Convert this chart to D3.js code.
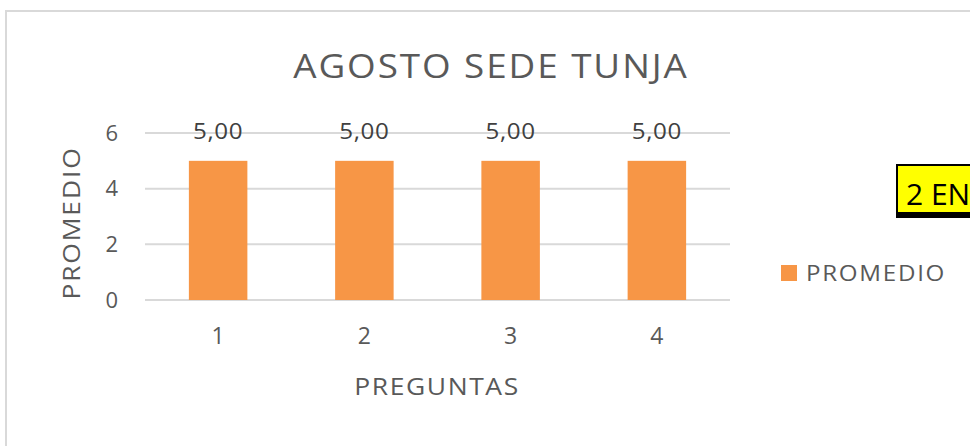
<!DOCTYPE html>
<html>
<head>
<meta charset="utf-8">
<script src="https://cdn.jsdelivr.net/npm/d3@7"></script>
<style>
  html, body { margin: 0; padding: 0; background: #fff; }
  svg { display: block; }
  text { font-family: "Open Sans", "Liberation Sans", sans-serif; }
</style>
</head>
<body>
<svg id="chart" width="970" height="446"></svg>
<script>
// Chart data
const categories = ["1", "2", "3", "4"];
const promedio = [5, 5, 5, 5];
const yTicks = [0, 2, 4, 6];
const seriesName = "PROMEDIO";
const chartTitle = "AGOSTO SEDE TUNJA";
const xTitle = "PREGUNTAS";
const yTitle = "PROMEDIO";
const noteText = "2 EN";

const svg = d3.select("#chart");
const W = 970, H = 446;
const textColor = "#595959";

// text drawn with slightly widened glyphs
function wideText(parent, cx, cy, str, opts) {
  const o = Object.assign({ size: 22, sx: 1.15, spacing: 1.5, rotate: 0, anchor: "middle", fill: textColor }, opts);
  return parent.append("text")
    .attr("transform", `translate(${cx},${cy}) rotate(${o.rotate}) scale(${o.sx},1)`)
    .attr("text-anchor", o.anchor)
    .attr("font-size", o.size)
    .attr("fill", o.fill)
    .attr("letter-spacing", o.spacing)
    .text(str);
}

// chart frame
svg.append("rect")
  .attr("x", 6).attr("y", 11).attr("width", W + 10).attr("height", H + 10)
  .attr("fill", "#fff").attr("stroke", "#d9d9d9").attr("stroke-width", 2);

const plot = { left: 145, right: 730, top: 133, bottom: 300 };

const x = d3.scaleBand().domain(categories).range([plot.left, plot.right]).paddingInner(0.6).paddingOuter(0.3);
const y = d3.scaleLinear().domain([0, 6]).range([plot.bottom, plot.top]);

// gridlines
svg.append("g").selectAll("line").data(yTicks).join("line")
  .attr("x1", plot.left).attr("x2", plot.right)
  .attr("y1", d => y(d)).attr("y2", d => y(d))
  .attr("stroke", "#d9d9d9").attr("stroke-width", 2);

// bars
svg.append("g").selectAll("rect").data(promedio).join("rect")
  .attr("x", (d, i) => x(categories[i]))
  .attr("width", x.bandwidth())
  .attr("y", d => y(d))
  .attr("height", d => y(0) - y(d))
  .attr("fill", "#F79646");

// data labels
const labels = svg.append("g");
promedio.forEach((d, i) => {
  wideText(labels, x(categories[i]) + x.bandwidth() / 2, y(d) - 22,
    d.toFixed(2).replace(".", ","), { size: 22, sx: 1.1, spacing: 0.6, fill: "#404040" });
});

// y axis
const yAxis = d3.axisLeft(y).tickValues(yTicks).tickFormat(d3.format("d")).tickSize(0).tickPadding(27);
const gy = svg.append("g").attr("transform", `translate(${plot.left},0)`).call(yAxis);
gy.select(".domain").remove();
gy.selectAll("text").attr("font-size", 22).attr("fill", textColor)
  .style("font-family", '"Open Sans", sans-serif');

// x axis
const xAxis = d3.axisBottom(x).tickSize(0).tickPadding(28);
const gx = svg.append("g").attr("transform", `translate(0,${plot.bottom})`).call(xAxis);
gx.select(".domain").remove();
gx.selectAll("text").attr("font-size", 23).attr("fill", textColor)
  .style("font-family", '"Open Sans", sans-serif');

// title
wideText(svg, 491, 78, chartTitle, { size: 32, sx: 1.15, spacing: 1.7 });

// axis titles
wideText(svg, 437, 395, xTitle, { size: 23, sx: 1.15, spacing: 1.4 });
wideText(svg, 80, 223, yTitle, { size: 23, sx: 1.15, spacing: 1.6, rotate: -90 });

// legend
svg.append("rect")
  .attr("x", 781).attr("y", 265).attr("width", 16).attr("height", 16)
  .attr("fill", "#F79646");
wideText(svg, 806, 281, seriesName, { size: 21, sx: 1.15, spacing: 1.5, anchor: "start" });

// highlighted note box
const note = svg.append("g");
note.append("rect")
  .attr("x", 897).attr("y", 165).attr("width", 90).attr("height", 48)
  .attr("fill", "#ffff00").attr("stroke", "#000").attr("stroke-width", 2);
note.append("rect")
  .attr("x", 896).attr("y", 212).attr("width", 90).attr("height", 6)
  .attr("fill", "#000");
note.append("text")
  .attr("x", 906).attr("y", 205)
  .attr("font-size", 30).attr("fill", "#000")
  .style("font-family", '"Open Sans", sans-serif')
  .text(noteText);
</script>
</body>
</html>
